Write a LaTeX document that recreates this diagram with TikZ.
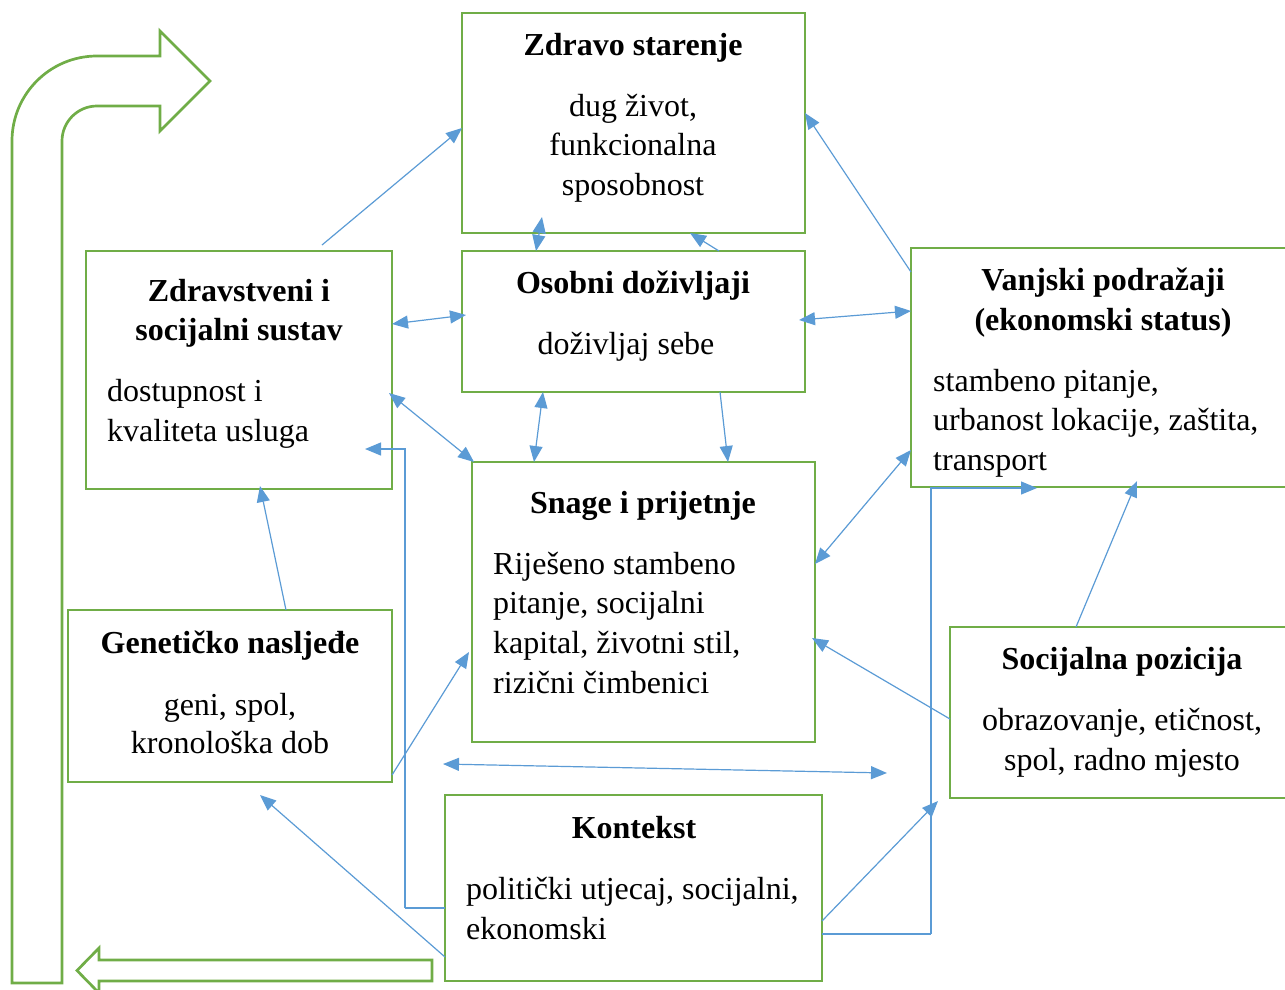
\documentclass[tikz,border=0pt]{standalone}
\usepackage{fontspec}
\setmainfont{Liberation Serif}
\usetikzlibrary{arrows.meta,calc}
\definecolor{gr}{HTML}{70AD47}
\definecolor{bl}{HTML}{5B9BD5}

\begin{document}
\begin{tikzpicture}[x=1pt,y=-1pt,
  box/.style={draw=gr,line width=2.7pt,inner sep=0pt,outer sep=0pt},
  bigarrow/.style={draw=gr,line width=2.7pt,line join=miter},
  conn/.style={draw=bl,line width=1.2pt,-{Triangle[length=16pt,width=13pt]}},
  conn2/.style={draw=bl,line width=1.2pt,{Triangle[length=16pt,width=13pt]}-{Triangle[length=16pt,width=13pt]}},
  route/.style={draw=bl,line width=1.2pt},
  ttl/.style={font=\fontsize{32}{40}\selectfont\bfseries,anchor=base,inner sep=0pt},
  ctr/.style={font=\fontsize{32}{40}\selectfont,anchor=base,inner sep=0pt},
  lft/.style={font=\fontsize{32}{40}\selectfont,anchor=base west,inner sep=0pt},
]
\useasboundingbox (0,0) rectangle (1285,989);

% ---- boxes ----
\node[box,minimum width=343pt,minimum height=220pt] (zdravo) at (633.5,123) {};
\node[box,minimum width=343pt,minimum height=141pt] (osobni) at (633.5,321.5) {};
\node[box,minimum width=306pt,minimum height=238pt] (sustav) at (239,370) {};
\node[box,minimum width=381pt,minimum height=239pt] (vanjski) at (1101.5,367.5) {};
\node[box,minimum width=343pt,minimum height=280pt] (snage) at (643.5,602) {};
\node[box,minimum width=324pt,minimum height=172pt] (genetika) at (230,696) {};
\node[box,minimum width=342pt,minimum height=171pt] (pozicija) at (1121,712.5) {};
\node[box,minimum width=377pt,minimum height=186pt] (kontekst) at (633.5,888) {};

% ---- texts ----
\node[ttl] (zt) at (633,55) {Zdravo starenje};
\node[ctr] (z1) at (633,116) {dug život,};
\node[ctr] (z2) at (633,155) {funkcionalna};
\node[ctr] (z3) at (633,195) {sposobnost};

\node[ttl] (ot) at (633,293) {Osobni doživljaji};
\node[ctr] (o1) at (626,354) {doživljaj sebe};

\node[ttl] (st1) at (239,301) {Zdravstveni i};
\node[ttl] (st2) at (239,340) {socijalni sustav};
\node[lft] (s1) at (107,401) {dostupnost i};
\node[lft] (s2) at (107,441) {kvaliteta usluga};

\node[ttl] (vt1) at (1103,290) {Vanjski podražaji};
\node[ttl] (vt2) at (1103,330) {(ekonomski status)};
\node[lft] (v1) at (933,391) {stambeno pitanje,};
\node[lft] (v2) at (933,430) {urbanost lokacije, zaštita,};
\node[lft] (v3) at (933,470) {transport};

\node[ttl] (nt) at (643,513) {Snage i prijetnje};
\node[lft] (n1) at (493,574) {Riješeno stambeno};
\node[lft] (n2) at (493,613) {pitanje, socijalni};
\node[lft] (n3) at (493,653) {kapital, životni stil,};
\node[lft] (n4) at (493,693) {rizični čimbenici};

\node[ttl] (gt) at (230,653) {Genetičko nasljeđe};
\node[ctr] (g1) at (230,715) {geni, spol,};
\node[ctr] (g2) at (230,753) {kronološka dob};

\node[ttl] (pt) at (1122,669) {Socijalna pozicija};
\node[ctr] (p1) at (1122,730) {obrazovanje, etičnost,};
\node[ctr] (p2) at (1122,770) {spol, radno mjesto};

\node[ttl] (kt) at (634,838) {Kontekst};
\node[lft] (k1) at (466,899) {politički utjecaj, socijalni,};
\node[lft] (k2) at (466,939) {ekonomski};

% ---- large outline arrows ----
\draw[bigarrow] (12,983) -- (12,141)
  .. controls (12,94) and (50,56) .. (97,56)
  -- (160,56) -- (160,31) -- (210,81) -- (160,131) -- (160,106) -- (97,106)
  .. controls (77.7,106) and (62,121.7) .. (62,141)
  -- (62,983) -- cycle;
\draw[bigarrow] (432,960) -- (99,960) -- (99,948) -- (77,970.5) -- (99,993)
  -- (99,981) -- (432,981) -- cycle;

% ---- free connector ends ----
\coordinate (sustavin) at (365,449);
\coordinate (bendL) at (405,908);
\coordinate (midL) at (443,764);
\coordinate (midR) at (887,773);
\coordinate (pozin) at (938,801);
\coordinate (bendR) at (931,934);
\coordinate (vanjskiin) at (1037,488);
\coordinate (genin) at (260,795);

% ---- connectors ----
\draw[conn] ($(sustav.north -| 322,0)+(0,-6)$) -- (zdravo.west |- 0,128);
\draw[conn] (vanjski.west |- 0,272) -- (zdravo.east |- 0,113);
\draw[conn2] (osobni.north -| 536,0) -- ($(zdravo.south -| 542,0)+(0,-16)$);
\draw[conn] (osobni.north -| 719,0) -- (zdravo.south -| 690,0);
\draw[conn2] (sustav.east |- 0,324) -- ($(osobni.west |- 0,315)+(4,0)$);
\draw[conn2] ($(osobni.east |- 0,320)+(-6,0)$) -- (vanjski.west |- 0,311);
\draw[conn2] (osobni.south -| 543,0) -- (snage.north -| 534,0);
\draw[conn] (osobni.south -| 720,0) -- (snage.north -| 728,0);
\draw[conn2] ($(sustav.east |- 0,393)+(-3,0)$) -- ($(snage.north west)+(2,0)$);
\draw[route] (kontekst.west |- 0,908) -- (bendL);
\draw[conn] (bendL) |- (sustavin);
\draw[conn2] (snage.east |- 0,564) -- (vanjski.west |- 0,450);
\draw[conn] (pozicija.west |- 0,719) -- ($(snage.east |- 0,638)+(-3,0)$);
\draw[conn2] (midL) -- (midR);
\draw[conn] (kontekst.east |- 0,921) -- (pozin);
\draw[route] (kontekst.east |- 0,934) -- (bendR);
\draw[conn] (bendR) |- (vanjskiin);
\draw[conn] (pozicija.north -| 1076,0) -- ($(vanjski.south -| 1137,0)+(0,-6)$);
\draw[conn] (genetika.north -| 286,0) -- ($(sustav.south -| 260,0)+(0,-3)$);
\draw[conn] (genetika.east |- 0,775) -- ($(snage.west |- 0,652)+(-3,0)$);
\draw[conn] (kontekst.west |- 0,957) -- (genin);
\end{tikzpicture}
\end{document}
